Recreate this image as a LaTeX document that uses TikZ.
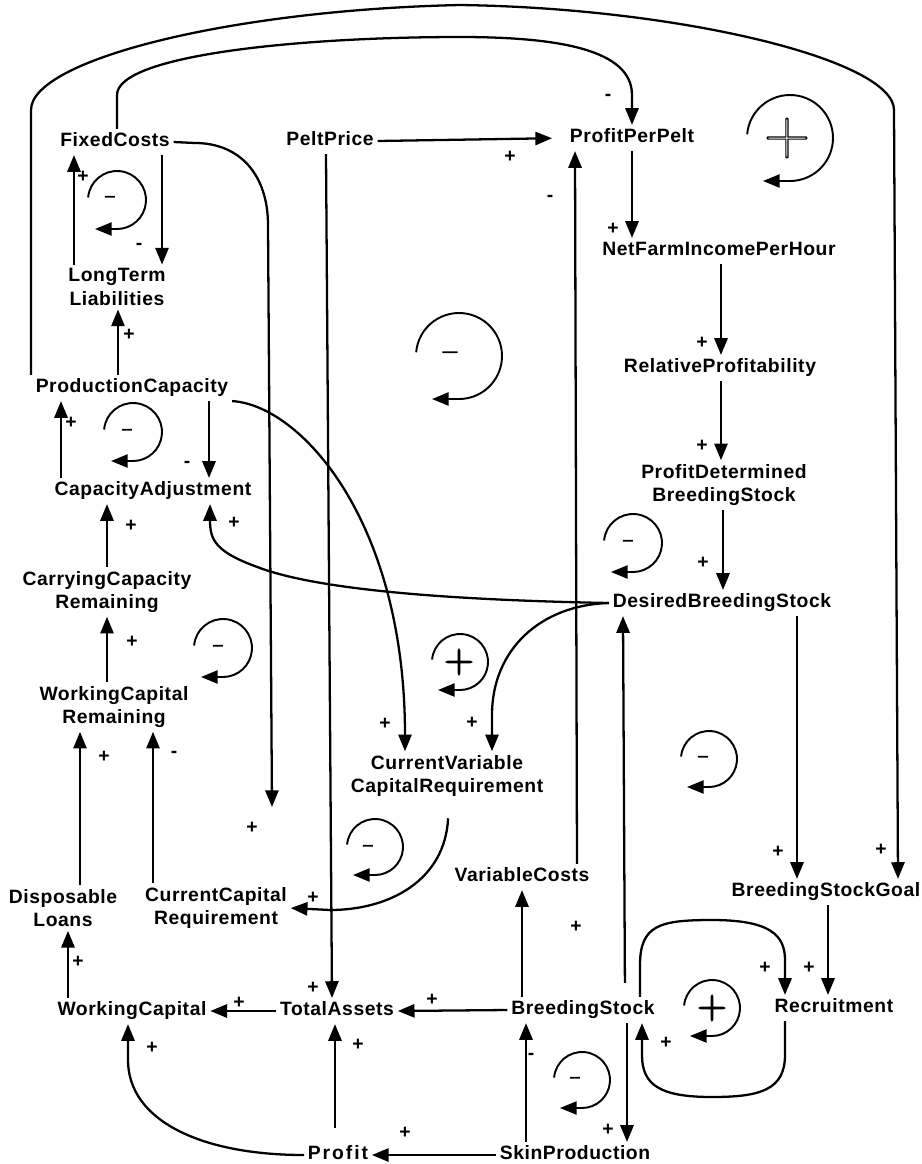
\documentclass[tikz,border=0pt]{standalone}
\usepackage{fontspec}
\usetikzlibrary{arrows.meta}

\newfontfamily\varfont{Liberation Sans}[LetterSpace=3]
% hollow loop signs: glyph drawn in stroke-only render mode
\newcommand{\loopsign}[1]{\special{pdf:literal direct 1 Tr 0.7 w}#1\special{pdf:literal direct 0 Tr}}

\tikzset{
  var/.style={font=\varfont\bfseries\fontsize{11}{13.5}\selectfont, inner sep=2pt, text height=8pt, text depth=2.5pt},
  var2/.style={font=\varfont\bfseries\fontsize{11}{13.5}\selectfont, inner sep=2pt, align=center},
  sign/.style={font=\varfont\bfseries\fontsize{11}{11}\selectfont, inner sep=0pt},
  polarity/.style={font=\varfont\bfseries, inner sep=0pt},
  link/.style={->, line width=1.3pt},
  loopline/.style={->, line width=1.1pt}
}

\begin{document}
\begin{tikzpicture}[x=0.02cm, y=-0.02cm, >={Triangle[length=9.5pt,width=7.5pt]}]
\useasboundingbox (0,0) rectangle (921,1164);

% variables
\node[var] (fc) at (115,142) {FixedCosts};
\node[var] (pp) at (330,141) {PeltPrice};
\node[var] (ppp) at (632,138) {ProfitPerPelt};
\node[var] (nfi) at (719,251) {NetFarmIncomePerHour};
\node[var] (rp) at (720,368) {RelativeProfitability};
\node[var2] (pdbs) at (724,485) {ProfitDetermined\\BreedingStock};
\node[var2] (ltl) at (117,287) {LongTerm\\Liabilities};
\node[var] (pc) at (132,388) {ProductionCapacity};
\node[var] (ca) at (153,491) {CapacityAdjustment};
\node[var2] (ccrem) at (107,592) {CarryingCapacity\\Remaining};
\node[var] (dbs) at (722,603) {DesiredBreedingStock};
\node[var2] (wcr) at (114,707) {WorkingCapital\\Remaining};
\node[var2] (cvcr) at (447,776) {CurrentVariable\\CapitalRequirement};
\node[var] (vc) at (522,877) {VariableCosts};
\node[var] (bsg) at (826,892) {BreedingStockGoal};
\node[var2] (dl) at (63,908) {Disposable\\Loans};
\node[var2] (curcap) at (216,908) {CurrentCapital\\Requirement};
\node[var] (wc) at (132,1011) {WorkingCapital};
\node[var] (ta) at (337,1011) {TotalAssets};
\node[var] (bs) at (583,1010) {BreedingStock};
\node[var] (rec) at (834,1008) {Recruitment};
\node[var] (pr) at (338,1155) {\addfontfeature{LetterSpace=10}Profit};
\node[var] (sp) at (575,1155) {SkinProduction};
\coordinate (fcend) at (272,807);

% long arcs over the top
\draw[link] (pc.north -| 31,0) -- (31,110) .. controls (31,60) and (230,10) .. (460,5)
  .. controls (680,8) and (894,60) .. (894,110) -- (bsg.north -| 898,0);
\draw[link] (fc.north -| 117,0) -- (117,95) .. controls (117,55) and (300,37) .. (460,37)
  .. controls (560,37) and (632,50) .. (632,95) -- (ppp.north);
\draw[link] (fc.east) -- (195,143) .. controls (240,143) and (268,175) .. (268,225) -- (fcend);

% straight links
\draw[link] (pp.south -| 326,0) -- (ta.north -| 332,0);
\draw[link, shorten >=8pt] (pp.east) -- (ppp.west);
\draw[link] (ppp.south) -- (nfi.north -| ppp.south);
\draw[link] (nfi.south -| 721,0) -- (rp.north -| 721,0);
\draw[link] (rp.south -| 721,0) -- (pdbs.north -| 721,0);
\draw[link] (pdbs.south -| 723,0) -- (dbs.north -| 723,0);
\draw[link] (fc.south -| 162,0) -- (ltl.north -| 162,0);
\draw[link] (ltl.north -| 74,0) -- (fc.south -| 74,0);
\draw[link] (pc.north -| 118,0) -- (ltl.south -| 118,0);
\draw[link] (ca.north -| 61,0) -- (pc.south -| 61,0);
\draw[link] (pc.south -| 209,0) -- (ca.north -| 209,0);
\draw[link] (ccrem.north -| 107,0) -- (ca.south -| 107,0);
\draw[link] (wcr.north -| 107,0) -- (ccrem.south -| 107,0);
\draw[link] (dl.north -| 80,0) -- (wcr.south -| 80,0);
\draw[link] (curcap.north -| 153,0) -- (wcr.south -| 153,0);
\draw[link] (wc.north -| 68,0) -- (dl.south -| 68,0);
\draw[link] (ta.west) -- (wc.east);
\draw[link] (bs.west) -- (ta.east);
\draw[link, shorten <=8pt] (pr.north -| 335,0) -- (ta.south -| 335,0);
\draw[link] (sp.west) -- (pr.east);
\draw[link] (sp.north -| 526,0) -- (bs.south -| 526,0);
\draw[link] (bs.south -| 627,0) -- (sp.north -| 627,0);
\draw[link] (bs.north -| 522,0) -- (vc.south -| 522,0);
\draw[link, shorten <=8pt] (bs.north -| 625,0) -- (dbs.south -| 623,0);
\draw[link] (vc.north -| 577,0) -- (ppp.south -| 575,0);
\draw[link] (bsg.south -| 828,0) -- (rec.north -| 828,0);
\draw[link] (dbs.south -| 797,0) -- (bsg.north -| 797,0);

% curved links
\draw[link] (pc.south east) .. controls (300,405) and (405,520) .. (cvcr.north -| 405,0);
\draw[link] (dbs.west) .. controls (540,605) and (492,650) .. (492,715) -- (cvcr.north -| 492,0);
\draw[link] (dbs.west) .. controls (450,600) and (320,590) .. (260,568)
  .. controls (215,552) and (210,540) .. (210,520) -- (ca.south -| 210,0);
\draw[link, shorten <=10pt] (cvcr.south -| 449,0) .. controls (445,880) and (390,910) .. (330,910) -- (curcap.east);
\draw[link] (bs.north -| 640,0) -- (640,965) .. controls (640,925) and (660,920) .. (712,920)
  .. controls (770,920) and (785,935) .. (785,960) -- (rec.north -| 785,0);
\draw[link] (rec.south -| 785,0) -- (785,1055) .. controls (785,1090) and (760,1097) .. (712,1097)
  .. controls (660,1097) and (642,1085) .. (642,1055) -- (bs.south -| 642,0);
\draw[link] (pr.west) .. controls (200,1155) and (128,1120) .. (128,1060) -- (wc.south -| 128,0);

% loops
\draw[loopline] (117,200) ++(185:29) arc[start angle=185, end angle=450, radius=29] -- ++(-22,0);
\draw[loopline] (790,138) ++(185:43) arc[start angle=185, end angle=450, radius=43] -- ++(-27,0);
\draw[loopline] (459,356) ++(185:43) arc[start angle=185, end angle=450, radius=43] -- ++(-27,0);
\draw[loopline] (133,432) ++(185:29) arc[start angle=185, end angle=450, radius=29] -- ++(-22,0);
\draw[loopline] (633,543) ++(185:29) arc[start angle=185, end angle=450, radius=29] -- ++(-22,0);
\draw[loopline] (223,648) ++(185:29) arc[start angle=185, end angle=450, radius=29] -- ++(-22,0);
\draw[loopline] (460,662) ++(185:28) arc[start angle=185, end angle=450, radius=28] -- ++(-22,0);
\draw[loopline] (709,759) ++(185:28) arc[start angle=185, end angle=450, radius=28] -- ++(-22,0);
\draw[loopline] (375,847) ++(185:28) arc[start angle=185, end angle=450, radius=28] -- ++(-22,0);
\draw[loopline] (712,1008) ++(185:28) arc[start angle=185, end angle=450, radius=28] -- ++(-22,0);
\draw[loopline] (582,1080) ++(185:28) arc[start angle=185, end angle=450, radius=28] -- ++(-22,0);

% loop polarities
\node[polarity, font=\fontsize{10}{10}\selectfont] (lp1) at (110,199) {\loopsign{–}};
\node[polarity, font=\fontsize{36}{36}\selectfont] (lp2) at (787,138) {\loopsign{+}};
\node[polarity, font=\fontsize{17}{17}\selectfont] (lp3) at (450,356) {\loopsign{–}};
\node[polarity, font=\fontsize{10}{10}\selectfont] (lp4) at (127,432) {\loopsign{–}};
\node[polarity, font=\fontsize{10}{10}\selectfont] (lp5) at (628,543) {\loopsign{–}};
\node[polarity, font=\fontsize{10}{10}\selectfont] (lp6) at (218,648) {\loopsign{–}};
\node[polarity, font=\fontsize{23}{23}\selectfont] (lp7) at (459,662) {\loopsign{+}};
\node[polarity, font=\fontsize{10}{10}\selectfont] (lp8) at (703,759) {\loopsign{–}};
\node[polarity, font=\fontsize{10}{10}\selectfont] (lp9) at (368,848) {\loopsign{–}};
\node[polarity, font=\fontsize{23}{23}\selectfont] (lp10) at (712,1008) {\loopsign{+}};
\node[polarity, font=\fontsize{10}{10}\selectfont] (lp11) at (575,1080) {\loopsign{–}};

% link signs
\node[sign] (s1) at (83,177) {+};
\node[sign] (s2) at (139,246) {-};
\node[sign] (s3) at (608,97) {-};
\node[sign] (s4) at (510,157) {+};
\node[sign] (s5) at (550,198) {-};
\node[sign] (s6) at (613,229) {+};
\node[sign] (s7) at (702,343) {+};
\node[sign] (s8) at (702,446) {+};
\node[sign] (s9) at (703,563) {+};
\node[sign] (s10) at (129,335) {+};
\node[sign] (s11) at (71,423) {+};
\node[sign] (s12) at (187,464) {-};
\node[sign] (s13) at (131,526) {+};
\node[sign] (s14) at (234,523) {+};
\node[sign] (s15) at (132,642) {+};
\node[sign] (s16) at (104,757) {+};
\node[sign] (s17) at (174,754) {-};
\node[sign] (s18) at (252,828) {+};
\node[sign] (s19) at (385,724) {+};
\node[sign] (s20) at (472,723) {+};
\node[sign] (s21) at (313,898) {+};
\node[sign] (s22) at (778,852) {+};
\node[sign] (s23) at (881,850) {+};
\node[sign] (s24) at (576,927) {+};
\node[sign] (s25) at (765,968) {+};
\node[sign] (s26) at (809,968) {+};
\node[sign] (s27) at (666,1043) {+};
\node[sign] (s28) at (608,1130) {+};
\node[sign] (s29) at (531,1056) {-};
\node[sign] (s30) at (432,1000) {+};
\node[sign] (s31) at (405,1133) {+};
\node[sign] (s32) at (78,962) {+};
\node[sign] (s33) at (239,1003) {+};
\node[sign] (s34) at (313,988) {+};
\node[sign] (s35) at (358,1045) {+};
\node[sign] (s36) at (152,1048) {+};
\end{tikzpicture}
\end{document}
